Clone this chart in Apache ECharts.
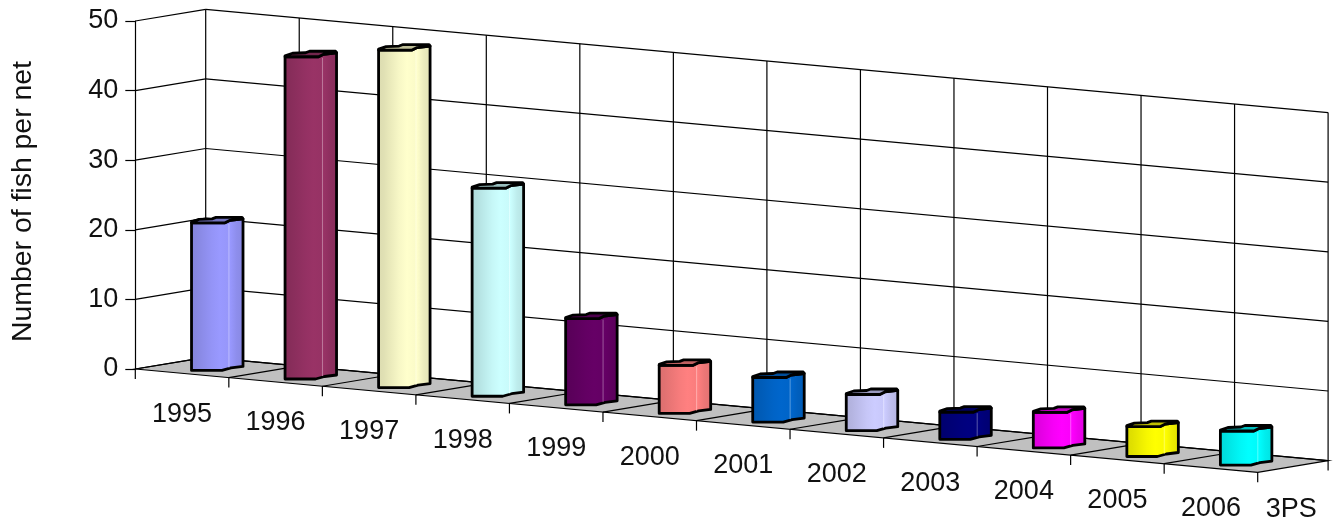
<!DOCTYPE html>
<html><head><meta charset="utf-8">
<style>html,body{margin:0;padding:0;background:#fff}#c{width:1333px;height:525px}</style>
<script src="https://cdn.jsdelivr.net/npm/echarts@6/dist/echarts.min.js"></script>
</head><body><div id="c"></div>
<script>
const categories = ['1995','1996','1997','1998','1999','2000','2001','2002','2003','2004','2005','2006'];
const values = [21.2,46.3,48.5,29.9,12.4,6.9,6.4,5.2,3.9,5.1,4.3,4.9];
const colors = ['#9999FF','#993366','#FFFFCC','#CCFFFF','#660066','#FF8080','#0066CC','#CCCCFF','#000080','#FF00FF','#FFFF00','#00FFFF'];
const yTicks = [0,10,20,30,40,50];
const depthLabel = '3PS';
const yTitle = 'Number of fish per net';

const FONT = 'Liberation Sans';
const SHEAR_Y = 8.61, DEPTH_X = 70.4, DEPTH_Y = -11.7;
const chart = echarts.init(document.getElementById('c'), null, {renderer:'canvas'});

function project(api, i, v, d){
  const p = api.coord([i, v]);
  return [p[0] + DEPTH_X*d, p[1] + SHEAR_Y*i + DEPTH_Y*d];
}
function shade(hex, f){
  const n = parseInt(hex.slice(1),16);
  const c = [n>>16&255, n>>8&255, n&255].map(x=>Math.round(f>1 ? x+(255-x)*(f-1) : x*f));
  return `rgb(${c[0]},${c[1]},${c[2]})`;
}
const line = (a,b,w)=>({type:'line',shape:{x1:a[0],y1:a[1],x2:b[0],y2:b[1]},style:{stroke:'#000',lineWidth:w||1.2}});

const gridH = (params, api)=>{
  const v = api.value(1);
  const a = project(api,0,v,0), b = project(api,0,v,1), c = project(api,12,v,1);
  return {type:'group',children:[line(a,b),line(b,c)]};
};
const gridV = (params, api)=>{
  const i = api.value(0);
  const bot = project(api,i,0,1), top = project(api,i,50,1);
  return {type:'group',children:[line(bot,top)]};
};
const floor = (params, api)=>{
  const pts = [project(api,0,0,0),project(api,12,0,0),project(api,12,0,1),project(api,0,0,1)];
  return {type:'polygon',shape:{points:pts},style:{fill:'#C0C0C0',stroke:'#000',lineWidth:1.2}};
};
const floorTicks = (params, api)=>{
  const i = api.value(0);
  const f = project(api,i,0,0), b = project(api,i,0,1);
  const ch = [line([f[0],f[1]],[f[0],f[1]+10])];
  if(i>0 && i<12) ch.push(line(f,b));
  if(i===12) ch.push(line(b,[b[0],b[1]+10]));
  return {type:'group',children:ch};
};
const STOPS = [[0,.86],[.12,.88],[.25,.92],[.4,.97],[.55,1],[.72,.98],[.73,1],[.85,.93],[1,.88]];
const bars = (params, api)=>{
  const i = api.value(0), v = api.value(1), col = colors[i];
  const SINK = 3.5;
  const fl0 = project(api,i+.3,0,.4), flT = project(api,i+.3,v,.4);
  const b = [fl0[0], fl0[1]+SINK], t = [flT[0], flT[1]+SINK];
  const W = project(api,i+.7,0,.6)[0]-fl0[0];
  const FW = project(api,i+.7,0,.4)[0]-fl0[0];
  const top = (dx,dy)=>[t[0]+dx,t[1]+dy], bot=(dx,dy)=>[b[0]+dx,b[1]+dy];
  const body = [top(0,0),top(W-18,0),top(W-13,-2.5),top(W,-4),bot(W,-4),bot(W-12,-2.5),bot(W-21,0),bot(0,0)];
  const cap = [top(0,0),top(W-18,0),top(W-13,-2.5),top(W,-4),top(W-1,-5.5),top(W-27,-5.5),top(W-31,-4),top(W-44,-3.5),top(0,-1)];
  const grad = new echarts.graphic.LinearGradient(0,0,1,0,STOPS.map(s=>({offset:s[0],color:shade(col,s[1])})));
  const lab = project(api,i+.5,0,0);
  return {type:'group',children:[
    {type:'polygon',shape:{points:body},style:{fill:grad,stroke:'#000',lineWidth:2.8,lineJoin:'round'}},
    {type:'line',shape:{x1:t[0]+FW,y1:t[1]+1,x2:b[0]+FW,y2:b[1]-3},style:{stroke:shade(col,1.35),lineWidth:1}},
    {type:'polygon',shape:{points:cap},style:{fill:shade(col,.75),stroke:'#000',lineWidth:2.8,lineJoin:'round'}},
    {type:'text',x:lab[0],y:lab[1]+41,style:{text:categories[i],fontFamily:FONT,fontSize:27,fill:'#111',align:'center',verticalAlign:'middle'}}
  ]};
};
const depth = (params, api)=>{
  const p = project(api,12,0,0);
  return {type:'text',x:p[0]+33.5,y:p[1]+37,style:{text:depthLabel,fontFamily:FONT,fontSize:27,fill:'#111',align:'center',verticalAlign:'middle'}};
};
const colIdx = categories.map((_,i)=>i).concat([12]);
const cust = (name,render,data)=>({name,type:'custom',renderItem:render,data,clip:false,silent:true,animation:false,tooltip:{show:false}});

chart.setOption({
  animation:false,
  backgroundColor:'#fff',
  grid:{left:135.3,top:21,width:1122.4,height:348,outerBoundsMode:'none',containLabel:false},
  xAxis:{type:'value',min:0,max:12,show:false},
  yAxis:{type:'value',min:0,max:50,interval:10,
    name:yTitle,nameLocation:'middle',nameGap:98,nameRotate:90,
    nameTextStyle:{fontFamily:FONT,fontSize:28.4,color:'#111',padding:[0,13,0,0]},
    axisLine:{show:true,onZero:false,lineStyle:{color:'#000',width:1.2}},
    axisTick:{show:true,length:10,lineStyle:{color:'#000',width:1.2}},
    axisLabel:{fontFamily:FONT,fontSize:27,color:'#111',margin:17,padding:[3,0,0,0]},
    splitLine:{show:false}},
  series:[
    cust('floor',floor,[[0,0]]),
    cust('gridH',gridH,yTicks.map(v=>[0,v])),
    cust('gridV',gridV,colIdx.map(i=>[i,0])),
    cust('floorTicks',floorTicks,colIdx.map(i=>[i,0])),
    cust('bars',bars,values.map((v,i)=>[i,v])),
    cust('depth',depth,[[12,0]])
  ]
});
</script></body></html>
